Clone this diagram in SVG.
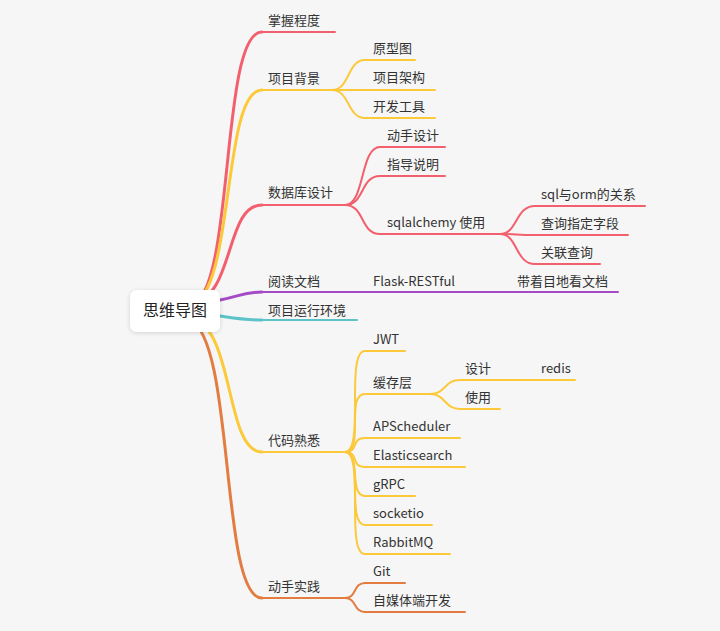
<svg xmlns="http://www.w3.org/2000/svg" width="720" height="631" viewBox="0 0 720 631">
<defs>
<filter id="sh" x="-20%" y="-20%" width="140%" height="160%"><feDropShadow dx="0" dy="1" stdDeviation="2" flood-opacity="0.15"/></filter>
</defs>
<style>
text{font-family:"Noto Sans CJK SC","Liberation Sans",sans-serif;font-size:13px;fill:#333}
.r{stroke:#f2606d}.y{stroke:#fcc93b}.p{stroke:#a54bc7}.t{stroke:#5cc4c9}.o{stroke:#e27c40}
path,line{fill:none;stroke-linecap:round}
.m{stroke-width:3}.s{stroke-width:2}
</style>
<rect width="720" height="631" fill="#f6f6f6"/>
<g id="connectors">
<path class="r m" d="M192,305 C235,290 220,32 262,32"/>
<line class="r s" x1="262" y1="32" x2="335" y2="32"/>
<path class="y m" d="M192,305 C235,290 222,90 262,90"/>
<line class="y s" x1="262" y1="90" x2="332" y2="90"/>
<path class="y s" d="M332,90 C350,90 347,60 365,60"/><line class="y s" x1="365" y1="60" x2="415" y2="60"/>
<path class="y s" d="M332,90 L365,90"/><line class="y s" x1="365" y1="90" x2="435" y2="90"/>
<path class="y s" d="M332,90 C350,90 347,118 365,118"/><line class="y s" x1="365" y1="118" x2="435" y2="118"/>
<path class="r m" d="M192,305 C235,295 225,205 262,205"/>
<line class="r s" x1="262" y1="205" x2="345" y2="205"/>
<path class="r s" d="M345,205 C365,205 360,147 380,147"/><line class="r s" x1="380" y1="147" x2="445" y2="147"/>
<path class="r s" d="M345,205 C365,205 360,176 380,176"/><line class="r s" x1="380" y1="176" x2="445" y2="176"/>
<path class="r s" d="M345,205 C365,205 360,234 380,234"/><line class="r s" x1="380" y1="234" x2="500" y2="234"/>
<path class="r s" d="M500,234 C518,234 515,206 535,206"/><line class="r s" x1="535" y1="206" x2="645" y2="206"/>
<path class="r s" d="M500,234 C518,234 515,235 535,235"/><line class="r s" x1="535" y1="235" x2="628" y2="235"/>
<path class="r s" d="M500,234 C518,234 515,264 535,264"/><line class="r s" x1="535" y1="264" x2="600" y2="264"/>
<path class="p m" d="M220,300 C240,296 245,292 262,292"/>
<line class="p s" x1="262" y1="292" x2="618" y2="292"/>
<path class="t m" d="M220,316 C240,319 245,320 262,320"/>
<line class="t s" x1="262" y1="320" x2="357" y2="320"/>
<path class="y m" d="M192,318 C235,330 225,452 262,452"/>
<line class="y s" x1="262" y1="452" x2="345" y2="452"/>
<path class="y s" d="M345,452 C365,452 345,351 365,351"/><line class="y s" x1="365" y1="351" x2="405" y2="351"/>
<path class="y s" d="M345,452 C365,452 345,394 365,394"/><line class="y s" x1="365" y1="394" x2="430" y2="394"/>
<path class="y s" d="M430,394 C446,394 444,380 460,380"/><line class="y s" x1="460" y1="380" x2="575" y2="380"/>
<path class="y s" d="M430,394 C446,394 444,409 460,409"/><line class="y s" x1="460" y1="409" x2="500" y2="409"/>
<path class="y s" d="M345,452 C360,452 350,438 365,438"/><line class="y s" x1="365" y1="438" x2="460" y2="438"/>
<path class="y s" d="M345,452 C360,452 350,467 365,467"/><line class="y s" x1="365" y1="467" x2="465" y2="467"/>
<path class="y s" d="M345,452 C362,452 348,496 365,496"/><line class="y s" x1="365" y1="496" x2="415" y2="496"/>
<path class="y s" d="M345,452 C364,452 346,525 365,525"/><line class="y s" x1="365" y1="525" x2="432" y2="525"/>
<path class="y s" d="M345,452 C365,452 345,554 365,554"/><line class="y s" x1="365" y1="554" x2="450" y2="554"/>
<path class="o m" d="M190,320 C235,340 220,598 262,598"/>
<line class="o s" x1="262" y1="598" x2="345" y2="598"/>
<path class="o s" d="M345,598 C357,598 353,583 365,583"/><line class="o s" x1="365" y1="583" x2="405" y2="583"/>
<path class="o s" d="M345,598 C357,598 353,612 365,612"/><line class="o s" x1="365" y1="612" x2="465" y2="612"/>
</g>
<g id="root"><rect x="130" y="290" width="90" height="42" rx="7" fill="#fff" filter="url(#sh)"/><text x="175" y="316" text-anchor="middle" style="font-size:16px;fill:#222">思维导图</text></g>
<g id="n1"><text x="268" y="25">掌握程度</text></g>
<g id="n2"><text x="268" y="83">项目背景</text></g>
<g id="n2a"><text x="373" y="53">原型图</text></g>
<g id="n2b"><text x="373" y="82">项目架构</text></g>
<g id="n2c"><text x="373" y="111">开发工具</text></g>
<g id="n3"><text x="268" y="197">数据库设计</text></g>
<g id="n3a"><text x="387" y="140">动手设计</text></g>
<g id="n3b"><text x="387" y="169">指导说明</text></g>
<g id="n3c"><text x="387" y="227">sqlalchemy 使用</text></g>
<g id="n3c1"><text x="541" y="199">sql与orm的关系</text></g>
<g id="n3c2"><text x="541" y="228">查询指定字段</text></g>
<g id="n3c3"><text x="541" y="257">关联查询</text></g>
<g id="n4"><text x="268" y="286">阅读文档</text></g>
<g id="n4a"><text x="373" y="286">Flask-RESTful</text></g>
<g id="n4b"><text x="517" y="286">带着目地看文档</text></g>
<g id="n5"><text x="268" y="315">项目运行环境</text></g>
<g id="n6"><text x="268" y="445">代码熟悉</text></g>
<g id="n6a"><text x="373" y="344">JWT</text></g>
<g id="n6b"><text x="373" y="387">缓存层</text></g>
<g id="n6b1"><text x="465" y="373">设计</text></g>
<g id="n6b1a"><text x="541" y="373">redis</text></g>
<g id="n6b2"><text x="465" y="402">使用</text></g>
<g id="n6c"><text x="373" y="431">APScheduler</text></g>
<g id="n6d"><text x="373" y="460">Elasticsearch</text></g>
<g id="n6e"><text x="373" y="489">gRPC</text></g>
<g id="n6f"><text x="373" y="518">socketio</text></g>
<g id="n6g"><text x="373" y="547">RabbitMQ</text></g>
<g id="n7"><text x="268" y="591">动手实践</text></g>
<g id="n7a"><text x="373" y="576">Git</text></g>
<g id="n7b"><text x="373" y="605">自媒体端开发</text></g>
</svg>
